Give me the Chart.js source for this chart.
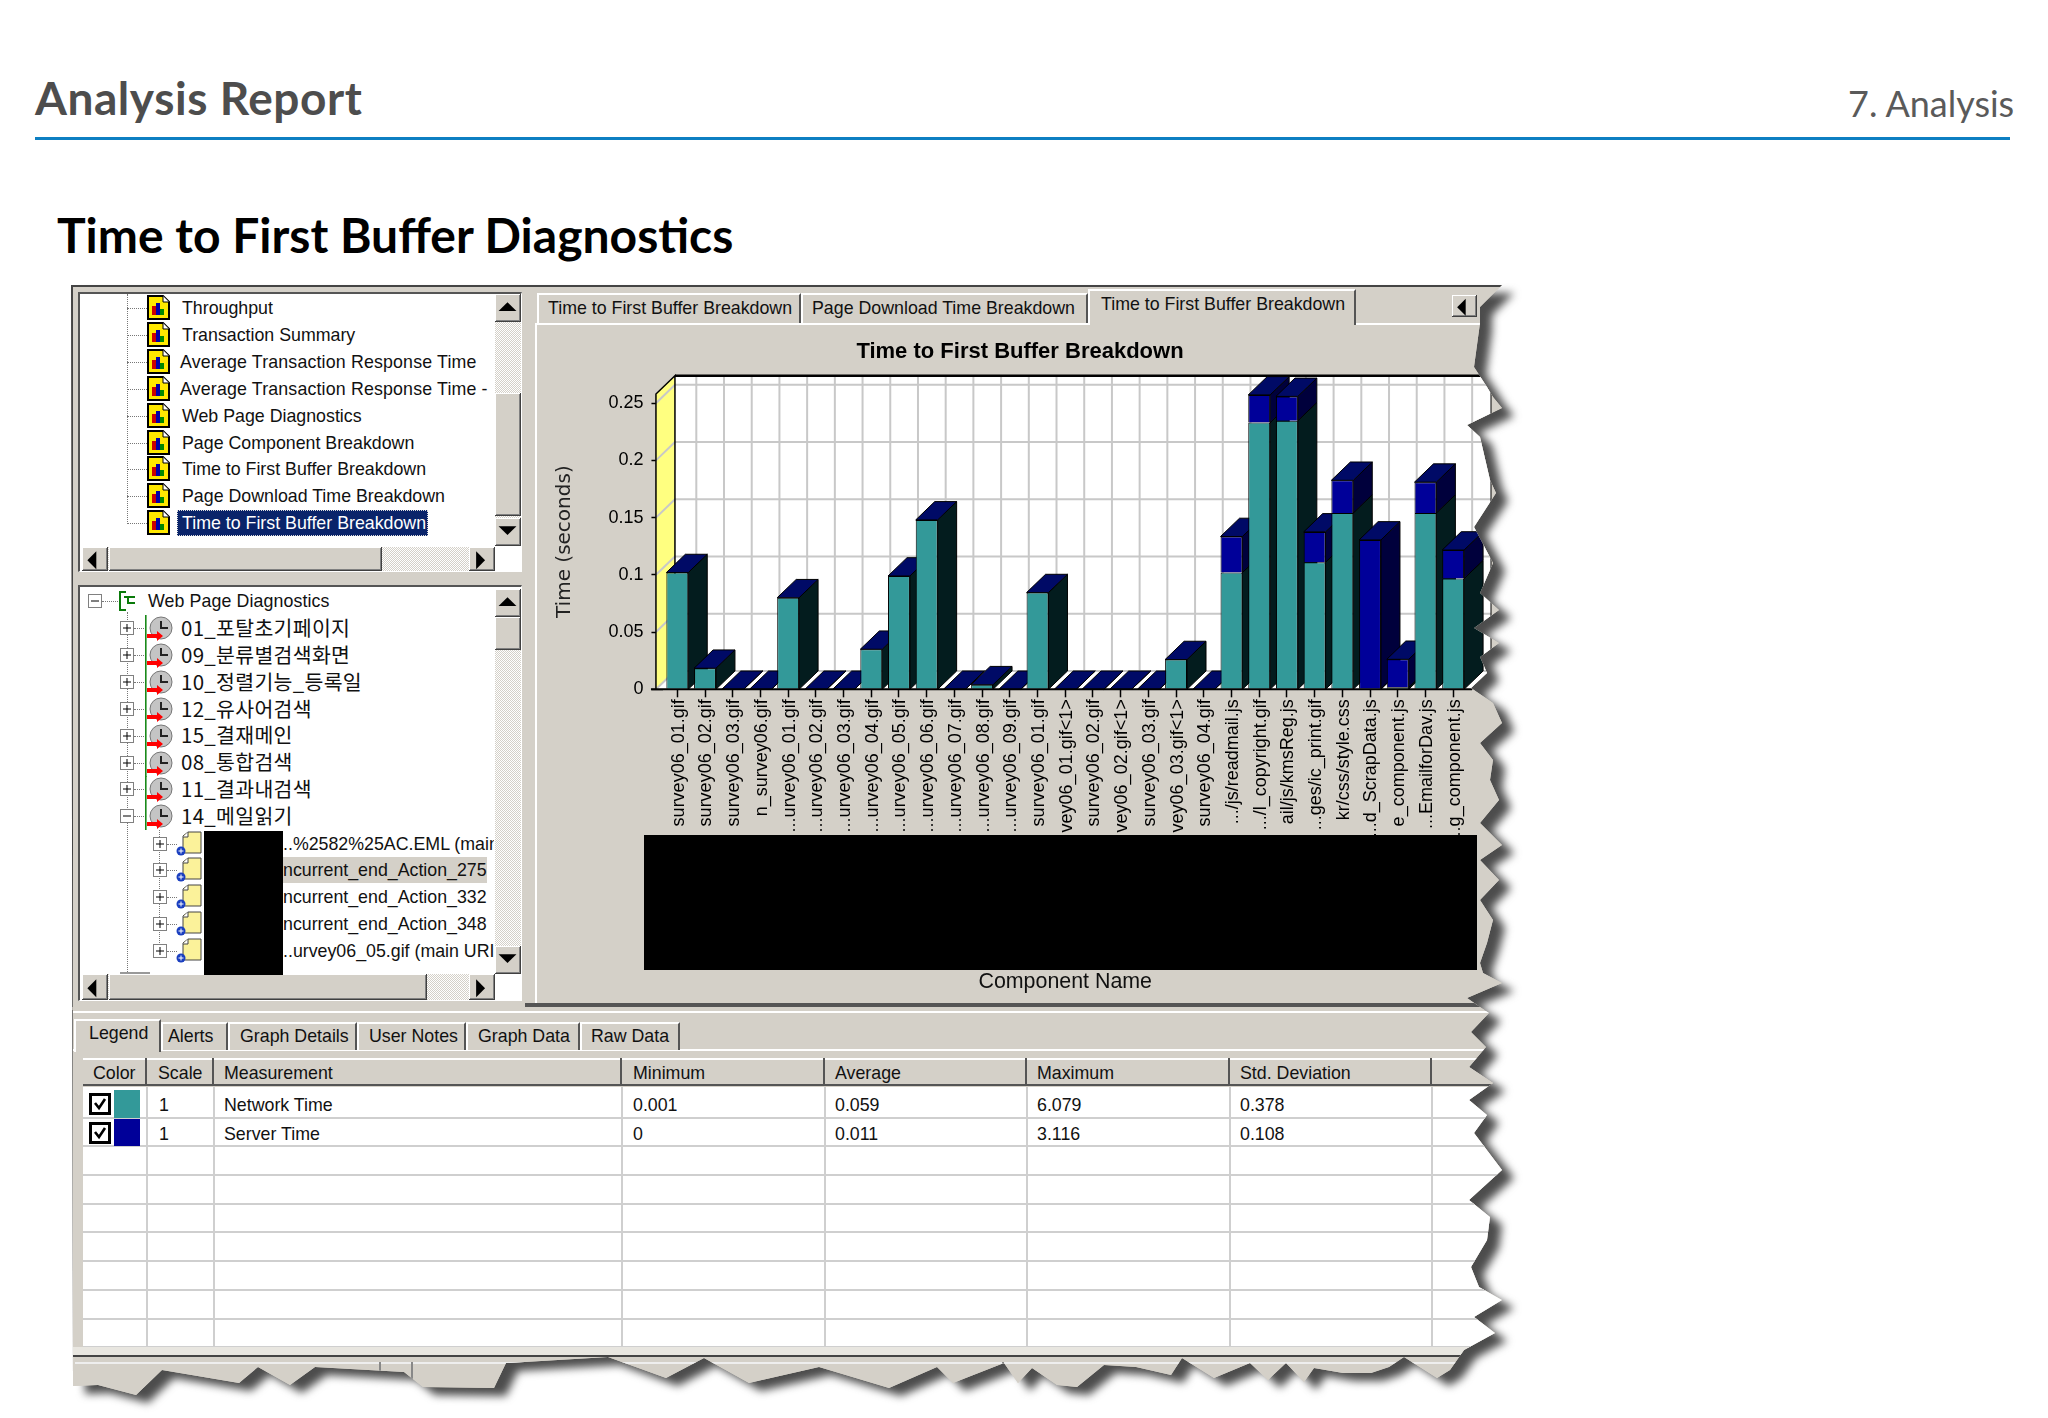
<!DOCTYPE html>
<html><head><meta charset="utf-8">
<script src="https://cdn.jsdelivr.net/npm/chart.js@4"></script>
<style>
html,body{margin:0;padding:0;background:#fff;width:2048px;height:1418px;overflow:hidden}
body{position:relative;font-family:"Liberation Sans",Arial,sans-serif}
.a{position:absolute;box-sizing:border-box}
.t{position:absolute;white-space:nowrap;font-size:17.8px;height:24px;line-height:24px;color:#111}
#win{position:absolute;left:0;top:0;width:2048px;height:1418px;background:#d4d0c8}
#shadow{position:absolute;left:0;top:0;filter:blur(4px)}
.bev{background:#d4d0c8;box-shadow:inset 1px 1px #fff,inset -1px -1px #808080;border-right:1px solid #404040;border-bottom:1px solid #404040}
.hatch{background:conic-gradient(#fff 0 25%,#d4d0c8 0 50%,#fff 0 75%,#d4d0c8 0) 0 0/2px 2px}
#ch{position:absolute;left:540px;top:330px}
</style></head><body>
<div class="t" style="left:35px;top:75px;height:46px;font:700 46px/46px Lato,sans-serif;letter-spacing:.55px;color:#4d4d4d">Analysis Report</div>
<div class="t" style="left:1848px;top:83px;height:40px;font:400 36px/40px Lato,sans-serif;color:#5a5a5a">7. Analysis</div>
<div class="a" style="left:35px;top:137px;width:1975px;height:3px;background:#0d7fc2"></div>
<div class="t" style="left:57px;top:210px;height:50px;font:700 48px/50px Lato,sans-serif;color:#000">Time to First Buffer Diagnostics</div>
<svg id="shadow" width="2048" height="1418"><polygon id="shp" fill="#4c4c4c"/></svg>
<div id="win"><canvas id="ch" width="960" height="665"></canvas></div>
<script>
// ---- chart data ----
const categories=["survey06_01.gif","survey06_02.gif","survey06_03.gif","n_survey06.gif","...urvey06_01.gif","...urvey06_02.gif","...urvey06_03.gif","...urvey06_04.gif","...urvey06_05.gif","...urvey06_06.gif","...urvey06_07.gif","...urvey06_08.gif","...urvey06_09.gif","survey06_01.gif","vey06_01.gif<1>","survey06_02.gif","vey06_02.gif<1>","survey06_03.gif","vey06_03.gif<1>","survey06_04.gif",".../js/readmail.js",".../l_copyright.gif","ail/js/kmsReg.js","...ges/ic_print.gif","kr/css/style.css","...d_ScrapData.js","e_component.js","...EmailforDav.js","...g_component.js"];
const networkTime=[0.102,0.0184,0,0,0.080,0,0,0.035,0.099,0.148,0,0.004,0,0.0845,0,0,0,0,0.026,0,0.102,0.233,0.2346,0.111,0.154,0.0005,0.0017,0.154,0.0967];
const serverTime=[0,0,0,0,0,0,0,0,0,0,0,0,0,0,0,0,0,0,0,0,0.0315,0.0242,0.0213,0.0265,0.0286,0.13,0.0245,0.027,0.025];
const yTickStep=0.05;
// ---- legend table ----
const legendColumns=["Color","Scale","Measurement","Minimum","Average","Maximum","Std. Deviation"];
const legendNetwork=["1","Network Time","0.001","0.059","6.079","0.378"];
const legendServer=["1","Server Time","0","0.011","3.116","0.108"];
// ---- UI lists ----
const graphTree=["Throughput","Transaction Summary","Average Transaction Response Time","Average Transaction Response Time -","Web Page Diagnostics","Page Component Breakdown","Time to First Buffer Breakdown","Page Download Time Breakdown","Time to First Buffer Breakdown"];
const pageTree=["01_포탈초기페이지","09_분류별검색화면","10_정렬기능_등록일","12_유사어검색","15_결재메인","08_통합검색","11_결과내검색","14_메일읽기"];
const subTree=["..%2582%25AC.EML (main","ncurrent_end_Action_275","ncurrent_end_Action_332","ncurrent_end_Action_348","..urvey06_05.gif (main URI"];
const tornEdge=[[71,285],[1502,285],[1480,307],[1480,323],[1474,367],[1487,387],[1493,397],[1502,408],[1467,425],[1480,437],[1490,480],[1496,493],[1474,527],[1493,563],[1480,593],[1499,610],[1474,628],[1499,643],[1480,657],[1487,673],[1471,688],[1493,703],[1502,723],[1480,743],[1493,760],[1490,780],[1499,800],[1480,823],[1502,845],[1480,860],[1499,880],[1480,900],[1493,920],[1487,943],[1480,963],[1483,973],[1502,983],[1467,998],[1480,1007],[1489,1013],[1471,1032],[1486,1047],[1469,1067],[1493,1083],[1469,1100],[1487,1115],[1474,1133],[1502,1170],[1469,1200],[1490,1217],[1487,1240],[1471,1267],[1479,1287],[1502,1300],[1474,1317],[1495,1333],[1464,1350],[1450,1370],[1437,1378],[1404,1357],[1389,1367],[1371,1373],[1343,1373],[1314,1368],[1304,1382],[1286,1363],[1268,1380],[1250,1363],[1214,1378],[1182,1358],[1171,1375],[1136,1367],[1104,1365],[1077,1387],[1057,1385],[1032,1368],[1018,1383],[1004,1363],[953,1383],[937,1367],[889,1388],[819,1367],[749,1383],[704,1358],[666,1378],[608,1357],[506,1363],[494,1388],[423,1387],[404,1372],[315,1367],[290,1385],[258,1367],[239,1383],[162,1370],[136,1395],[98,1385],[73,1386]];

const win=document.getElementById('win');
win.style.clipPath='polygon('+tornEdge.map(p=>p[0]+'px '+p[1]+'px').join(',')+')';
const shp=document.getElementById('shp');
shp.setAttribute('points',tornEdge.map(p=>p.join(',')).join(' '));
shp.setAttribute('transform','translate(12,8)');

function box(x,y,w,h,css,cls,html){const d=document.createElement('div');d.className='a '+(cls||'');d.style.cssText=`left:${x}px;top:${y}px;width:${w}px;height:${h}px;`+(css||'');if(html)d.innerHTML=html;win.appendChild(d);return d;}
function txt(x,y,s,css,parent){const d=document.createElement('div');d.className='t';d.style.cssText=`left:${x}px;top:${y-12}px;`+(css||'');d.textContent=s;(parent||win).appendChild(d);return d;}
function arrow(dir){const m={u:'M2 8L7 3L12 8Z',d:'M2 3L7 8L12 3Z',l:'M8 2L3 7L8 12Z',r:'M4 2L9 7L4 12Z'}[dir];return `<svg width="100%" height="100%" viewBox="0 0 14 12"><path d="${m}" fill="#000"/></svg>`;}
function vbar(x,y,w,h,tTop,tH){box(x,y,w,h,'','hatch');box(x,y,w,28,'','bev',arrow('u'));box(x,y+h-28,w,28,'','bev',arrow('d'));box(x,tTop,w,tH,'','bev');}
function hbar(x,y,w,h,tW){box(x,y,w,h,'','hatch');box(x,y,26,h,'','bev',arrow('l'));box(x+w-26,y,26,h,'','bev',arrow('r'));box(x+27,y,tW,h,'','bev');}
function sunk(x,y,w,h,bg){box(x,y,w,h,`background:${bg||'#fff'};border-top:2px solid #555;border-left:2px solid #555;border-bottom:1px solid #fff;border-right:1px solid #fff`);}
const chartIcon=`<svg width="23" height="25" viewBox="0 0 23 25"><path d="M1 1H16L22 7V24H1Z" fill="#ffe800" stroke="#000" stroke-width="2"/><path d="M16 1V7H22" fill="#fff" stroke="#000"/><rect x="5" y="11" width="4" height="9" fill="#c00"/><rect x="9" y="8" width="4" height="12" fill="#00a"/><rect x="13" y="14" width="4" height="6" fill="#080"/></svg>`;
const clockIcon=`<svg width="30" height="27" viewBox="0 0 30 27"><rect x="0" y="0" width="1.6" height="27" fill="#1a8a1a"/><circle cx="16" cy="13" r="11" fill="#c4c4c4" stroke="#777"/><path d="M16 6V13H23" fill="none" stroke="#222" stroke-width="2"/><path d="M2 19H12V16L18 21L12 26V23H2Z" fill="#f00"/></svg>`;
const docIcon=`<svg width="28" height="26" viewBox="0 0 28 26"><path d="M7 13V5L12 1H25V22H7Z" fill="#fbf29a" stroke="#444"/><path d="M12 1V6H7" fill="#fff" stroke="#444"/><circle cx="5" cy="20" r="4.5" fill="#1a3fc0"/><path d="M2.5 20H7.5M5 17.5V22.5" stroke="#fff"/></svg>`;
const plus=`<svg width="14" height="14"><rect x=".5" y=".5" width="13" height="13" fill="#fff" stroke="#808080"/><path d="M3 7H11M7 3V11" stroke="#000"/></svg>`;
const minus=`<svg width="14" height="14"><rect x=".5" y=".5" width="13" height="13" fill="#fff" stroke="#808080"/><path d="M3 7H11" stroke="#000"/></svg>`;

// window frame
box(71,285,1440,2,'background:#444');
box(71,285,2,1101,'background:#444');
box(73,287,452,716,'background:#d4d0c8');
// top tree panel
sunk(78,292,444,280);
box(127,294,0,230,'border-left:1px dotted #777');
const y0=308;
graphTree.forEach((s,i)=>{const y=y0+i*26.9;
  box(127,y,20,0,'border-top:1px dotted #777');
  box(147,y-13,23,25,'','',chartIcon);
  if(i==8){box(177,y-13,251,26,'background:#0a246a;outline:1px dotted #ddd;outline-offset:-1px');}
  txt(i==2||i==3?180:182,y,s,(i==8?'color:#fff;':'')+(i==2||i==3?'letter-spacing:.16px':''));
});
vbar(495,294,26,252,393,123);
hbar(82,547,413,24,273);
// bottom tree panel
sunk(78,585,444,416);
box(127,612,0,362,'border-left:1px dotted #777');
box(88,594,14,14,'','',minus);
box(102,601,16,0,'border-top:1px dotted #777');
box(118,590,18,22,'','',`<svg width="18" height="22"><path d="M8 2H2V20H8" fill="none" stroke="#0a7a0a" stroke-width="2"/><path d="M6 7H17M10 7V14M10 13H17" stroke="#0a7a0a" stroke-width="2" fill="none"/></svg>`);
txt(148,601,'Web Page Diagnostics','letter-spacing:.1px');
pageTree.forEach((s,i)=>{const y=628+i*26.9;
  box(120,y-7,14,14,'','',i==7?minus:plus);
  box(134,y,12,0,'border-top:1px dotted #777');
  box(145,y-13,30,27,'','',clockIcon);
  txt(181,y-1.2,s,'font-family:"Noto Sans CJK KR";font-size:20.5px;letter-spacing:.3px');
});
box(159,830,0,125,'border-left:1px dotted #777');
box(120,972,30,2,'background:#999');
box(283,857,204,26,'background:#d4d0c8');
const subClip=box(280,830,214,144,'overflow:hidden');
subTree.forEach((s,i)=>{const y=843.5+i*26.9;
  box(153,y-7,14,14,'','',plus);
  box(167,y,10,0,'border-top:1px dotted #777');
  box(176,y-13,28,26,'','',docIcon);
  txt(3,y-830,s,'',subClip);
});
vbar(495,589,26,385,617,33);
hbar(82,974,413,26,318);
box(204,831,79,144,'background:#000');

// right chart panel
box(525,287,1000,718,'background:#d4d0c8');
box(535,323,1000,682,'border-left:2px solid #fff;border-top:2px solid #fff');
const tabs=[[537,264,'Time to First Buffer Breakdown',548,307.7,293,30],[801,287,'Page Download Time Breakdown',812,307.7,293,30],[1088,268,'Time to First Buffer Breakdown',1101,304,289,36]];
tabs.forEach(t=>{box(t[0],t[5],t[1],t[6],'background:#d4d0c8;border-top:2px solid #fff;border-left:2px solid #fff;border-right:2px solid #555');txt(t[3],t[4],t[2]);});
box(1452,295,25,22,'','bev',arrow('l'));
box(525,1003,1000,4,'background:#555');
box(71,1007,1450,3,'background:#d4d0c8');
box(73,1011,1450,2,'background:#fff');
// legend panel
box(73,1013,1450,342,'background:#d4d0c8');
box(73,1049,1450,2,'background:#fff');
const ltabs=[[74,87,'Legend',89,1033,1019],[161,67,'Alerts',168,1036,1022],[228,129,'Graph Details',240,1036,1022],[357,109,'User Notes',369,1036,1022],[466,114,'Graph Data',478,1036,1022],[580,100,'Raw Data',591,1036,1022]];
ltabs.forEach((t,i)=>{box(t[0],t[5],t[1],1050-t[5]+(i==0?2:0),'background:#d4d0c8;border-top:2px solid #fff;border-left:2px solid #fff;border-right:2px solid #555');txt(t[3],t[4],t[2]);});
const cols=[83,147,214,622,825,1027,1230,1432];
const ctx0=[93,158,224,633,835,1037,1240];
box(83,1058,1440,28,'background:#d4d0c8;border-top:2px solid #fff;border-bottom:2px solid #555');
legendColumns.forEach((s,i)=>{txt(ctx0[i],1073,s);});
cols.slice(1).forEach(x=>{box(x-2,1058,2,28,'background:#555');});
box(83,1087,1440,260,'background:#fff');
for(let i=0;i<9;i++)box(83,1116.6+i*28.7,1440,2,'background:#cfcfcf');
cols.slice(1).forEach(x=>box(x-1,1087,2,260,'background:#cfcfcf'));
[[legendNetwork,1105,'#339999',1090],[legendServer,1134,'#000099',1118.5]].forEach(r=>{
  box(113.6,r[3],26.4,27.5,'background:'+r[2]);
  box(89,r[3]+3,22,22,'background:#fff;border:3px solid #000','',`<svg width="16" height="16" style="display:block"><path d="M3 7L7 12L13 3" fill="none" stroke="#000" stroke-width="2.6"/></svg>`);
  [159,224,633,835,1037,1240].forEach((x,i)=>txt(x,r[1],r[0][i]));
});
box(73,1347,1450,8,'background:#e8e6e0');
box(73,1355,1450,2,'background:#444');
box(73,1357,1450,40,'background:#d4d0c8');
box(75,1362,1450,40,'border-top:2px solid #eee');
[379,411,1002].forEach(x=>box(x,1362,2,30,'background:#888'));

// canvas above the panels, redaction block above the canvas
const cv=document.getElementById('ch');win.appendChild(cv);cv.style.zIndex=2;
const blackout=box(643.5,835,833.5,135,'background:#000;z-index:3');

const DX=19,DY=18.3;
const wall3d={id:'wall3d',beforeDatasetsDraw(c){
  const g=c.ctx,ys=c.scales.y,xs=c.scales.x,ca=c.chartArea;
  const zero=ys.getPixelForValue(0),fl=ca.left-7.5,fr=ca.right+5,topF=ca.top;
  g.save();
  // back wall + floor
  g.fillStyle='#fff';g.fillRect(fl+DX,topF-DY,fr-fl,zero-topF);
  g.beginPath();g.moveTo(fl,zero);g.lineTo(fr,zero);g.lineTo(fr+DX,zero-DY);g.lineTo(fl+DX,zero-DY);g.closePath();g.fill();
  // left wall
  g.fillStyle='#ffff80';g.beginPath();g.moveTo(fl,zero);g.lineTo(fl+DX,zero-DY);g.lineTo(fl+DX,topF-DY);g.lineTo(fl,topF);g.closePath();g.fill();
  // back grid from the scales
  g.strokeStyle='#c8c8c8';g.lineWidth=2;
  ys.ticks.forEach(t=>{const y=ys.getPixelForValue(t.value);g.beginPath();g.moveTo(fl,y);g.lineTo(fl+DX,y-DY);g.lineTo(fr+DX,y-DY);g.stroke();});
  xs.ticks.forEach((t,i)=>{const x=xs.getPixelForTick(i)+DX;g.beginPath();g.moveTo(x,topF-DY);g.lineTo(x,zero-DY);g.stroke();});
  g.strokeStyle='#000';g.lineWidth=1.5;
  g.beginPath();g.moveTo(fl,zero);g.lineTo(fl,topF);g.lineTo(fl+DX,topF-DY);g.lineTo(fl+DX,zero-DY);g.stroke();
  g.lineWidth=2.5;g.beginPath();g.moveTo(fl+DX,topF-DY);g.lineTo(fr+DX,topF-DY);g.stroke();
  g.lineWidth=1;g.beginPath();g.moveTo(fr+DX,topF-DY);g.lineTo(fr+DX,zero-DY);g.lineTo(fr,zero);g.stroke();
  // bar depth: side and top faces, from each bar's own element
  const m0=c.getDatasetMeta(0).data,m1=c.getDatasetMeta(1).data;
  g.beginPath();g.rect(fl,topF-DY,fr-fl+DX+10,zero-topF+DY+2);g.clip();
  g.lineWidth=1;g.strokeStyle='#000';
  const poly=(p,fill)=>{g.fillStyle=fill;g.beginPath();p.forEach((q,i)=>i?g.lineTo(q[0],q[1]):g.moveTo(q[0],q[1]));g.closePath();g.fill();g.stroke();};
  m0.forEach((b0,i)=>{const b1=m1[i],hw=b0.width/2,xl=b0.x-hw,xr=b0.x+hw,yn=b0.y,ys2=b1.y;
    poly([[xr,zero],[xr+DX,zero-DY],[xr+DX,yn-DY],[xr,yn]],'#031c1e');
    if(ys2<yn)poly([[xr,yn],[xr+DX,yn-DY],[xr+DX,ys2-DY],[xr,ys2]],'#00003c');
    poly([[xl,ys2],[xr,ys2],[xr+DX,ys2-DY],[xl+DX,ys2-DY]],'#000a66');
  });
  g.restore();
},afterDraw(c){
  const g=c.ctx,zero=c.scales.y.getPixelForValue(0),ca=c.chartArea;
  g.save();g.strokeStyle='#000';g.lineWidth=2;g.beginPath();g.moveTo(ca.left-12.5,zero);g.lineTo(ca.right+5,zero);g.stroke();g.restore();
}};
new Chart(cv,{
  type:'bar',plugins:[wall3d],
  data:{labels:categories,datasets:[
    {label:'Network Time',data:networkTime,backgroundColor:'#339999',borderColor:'#000',borderWidth:1,stack:'s'},
    {label:'Server Time',data:serverTime,backgroundColor:'#000099',borderColor:'#000',borderWidth:1,stack:'s'}
  ]},
  options:{responsive:false,animation:false,devicePixelRatio:1,
    layout:{padding:0},
    datasets:{bar:{categoryPercentage:1,barPercentage:.79}},
    plugins:{legend:{display:false},tooltip:{enabled:false},
      title:{display:true,text:'Time to First Buffer Breakdown',color:'#000',font:{family:'Liberation Sans',size:22,weight:'bold'},padding:{top:9,bottom:28.6}}},
    scales:{
      x:{stacked:true,offset:true,
        afterFit(s){s.height=305.7;s.paddingRight=33;},
        border:{display:false},
        grid:{offset:false,drawOnChartArea:false,tickLength:8,tickColor:'#000',tickWidth:1.5},
        ticks:{autoSkip:false,minRotation:90,maxRotation:90,padding:2,labelOffset:1.5,color:'#000',font:{family:'Liberation Sans',size:18}},
        title:{display:true,text:'Component Name',color:'#111',font:{family:'Liberation Sans',size:21.4},padding:{top:0,bottom:0}}},
      y:{stacked:true,min:0,max:0.258,
        afterFit(s){s.width=123.45;},
        border:{display:false},
        grid:{drawOnChartArea:false,tickLength:12,tickColor:'#000',tickWidth:1.5},
        ticks:{stepSize:yTickStep,includeBounds:false,padding:8,color:'#000',font:{family:'Liberation Sans',size:18},callback:v=>String(+v.toFixed(2))},
        title:{display:true,text:'Time (seconds)',color:'#222',font:{family:'DejaVu Sans',size:20},padding:{top:13,bottom:0}}}
    }}
});
</script>
</body></html>
